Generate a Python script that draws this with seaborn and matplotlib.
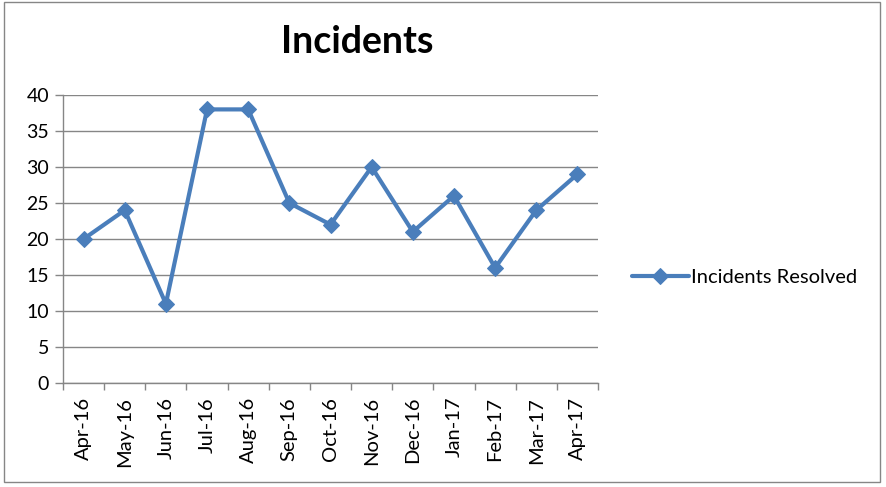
import numpy as np
import pandas as pd
import matplotlib
matplotlib.use('Agg')
import matplotlib.pyplot as plt
import seaborn as sns

months = ['Apr-16', 'May-16', 'Jun-16', 'Jul-16', 'Aug-16', 'Sep-16', 'Oct-16',
          'Nov-16', 'Dec-16', 'Jan-17', 'Feb-17', 'Mar-17', 'Apr-17']
resolved = [20, 24, 11, 38, 38, 25, 22, 30, 21, 26, 16, 24, 29]

sns.set_style('white')
plt.rcParams['font.family'] = ['Lato', 'DejaVu Sans']
plt.rcParams['text.color'] = 'black'
plt.rcParams['xtick.color'] = 'black'
plt.rcParams['ytick.color'] = 'black'

df = pd.DataFrame({'pos': np.arange(len(months)), 'value': resolved})

fig = plt.figure(figsize=(8.87, 4.87), dpi=100)
ax = fig.add_axes([63/887, 1-383/487, (598-63)/887, (383-95)/487])

sns.lineplot(data=df, x='pos', y='value', ax=ax, color='#4A7EBB', lw=3,
             marker='D', markersize=8, markeredgecolor='#4A7EBB',
             label='Incidents Resolved')

ax.set_xlim(-0.5, len(months) - 0.5)
ax.set_ylim(0, 40)
ax.set_yticks(range(0, 41, 5))
ax.set_xticks(range(len(months)))
ax.set_xticklabels(months, rotation=90, fontsize=14.5)
ax.set_xticks(np.arange(-0.5, len(months), 1), minor=True)
ax.tick_params(axis='x', which='major', length=0, pad=10)
ax.tick_params(axis='x', which='minor', length=5, color='#868686', width=1, bottom=True)
ax.tick_params(axis='y', length=6, color='#868686', width=1, left=True, labelsize=14, pad=4)
ax.yaxis.grid(True, color='#868686', lw=1)
ax.set_axisbelow(True)
ax.set_xlabel('')
ax.set_ylabel('')
for s in ['top', 'right']:
    ax.spines[s].set_visible(False)
for s in ['left', 'bottom']:
    ax.spines[s].set_color('#868686')
    ax.spines[s].set_linewidth(1)

fig.text(357/887, 1-42/487, 'Incidents', ha='center', va='center',
         fontsize=27, fontweight='bold')

leg = ax.legend(loc='center left', bbox_to_anchor=(1.03, 1-(277-95)/288),
                frameon=False, fontsize=14.5, handlelength=2.8, handletextpad=0.1)

fig.patches.append(plt.Rectangle((4/887, 5/487), 876/887, 480/487, fill=False,
                                 edgecolor='#868686', lw=1, transform=fig.transFigure))

fig.savefig('out.png', dpi=100, facecolor='white')
